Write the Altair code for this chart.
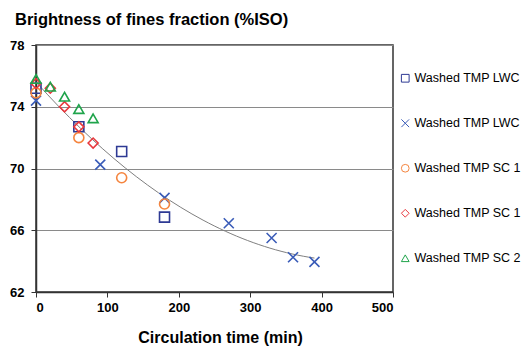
import altair as alt
import pandas as pd

# series keys (distinct) and their displayed legend labels
series_keys = ["s1", "s2", "s3", "s4", "s5"]
series_labels = ["Washed TMP LWC", "Washed TMP LWC", "Washed TMP SC 1", "Washed TMP SC 1", "Washed TMP SC 2"]
series_colors = ["#2E3A94", "#3A5CB8", "#F5853F", "#E8383D", "#1FA44B"]
series_shapes = ["square", "M-1,-1L1,1M-1,1L1,-1", "circle", "diamond", "triangle-up"]

s1_x = [0, 60, 120, 180]
s1_y = [75.2, 72.7, 71.1, 66.85]
s2_x = [0, 90, 180, 270, 330, 360, 390]
s2_y = [74.4, 70.25, 68.1, 66.45, 65.5, 64.25, 63.95]
s3_x = [0, 60, 120, 180]
s3_y = [74.9, 72.0, 69.4, 67.7]
s4_x = [0, 20, 40, 60, 80]
s4_y = [75.5, 75.2, 74.0, 72.7, 71.65]
s5_x = [0, 20, 40, 60, 80]
s5_y = [75.8, 75.3, 74.65, 73.85, 73.25]

rows = []
for key, xs, ys in zip(series_keys, [s1_x, s2_x, s3_x, s4_x, s5_x], [s1_y, s2_y, s3_y, s4_y, s5_y]):
    for xv, yv in zip(xs, ys):
        rows.append({"series": key, "time": xv, "brightness": yv})
df = pd.DataFrame(rows)

label_expr = " : ".join(
    f"datum.value == '{k}' ? '{l}'" for k, l in zip(series_keys, series_labels)
) + " : ''"

x_scale = alt.Scale(domain=[0, 500], nice=False, zero=False)
y_scale = alt.Scale(domain=[62, 78], nice=False, zero=False)

legend = alt.Legend(
    title=None,
    orient="none",
    legendX=363,
    legendY=27,
    padding=0,
    rowPadding=32,
    labelExpr=label_expr,
    labelFont="Liberation Sans",
    labelFontSize=12.5,
    labelColor="#000000",
    labelOffset=3,
    symbolSize=60,
    symbolStrokeWidth=1,
    symbolFillColor="transparent",
)

base = alt.Chart(df)

trend = base.transform_regression(
    "time", "brightness", method="poly", order=2
).mark_line(color="#7f7f7f", strokeWidth=1).encode(
    x=alt.X("time:Q", scale=x_scale),
    y=alt.Y("brightness:Q", scale=y_scale),
)

points = base.mark_point(filled=False, strokeWidth=1.6, size=100, opacity=1).encode(
    x=alt.X(
        "time:Q",
        scale=x_scale,
        axis=alt.Axis(
            values=[0, 100, 200, 300, 400, 500],
            title="Circulation time (min)",
            titleFontSize=16,
            titleFontWeight="bold",
            titleColor="#000000",
            titleFont="Liberation Sans",
            titleBaseline="alphabetic",
            titleY=50,
            titleX=184,
            labelFont="Liberation Sans",
            labelFontSize=13,
            labelFontWeight="bold",
            labelColor="#000000",
            labelPadding=4,
            tickSize=5,
            tickColor="#333333",
            domainColor="#333333",
            domainWidth=1.5,
            grid=False,
        ),
    ),
    y=alt.Y(
        "brightness:Q",
        scale=y_scale,
        axis=alt.Axis(
            values=[62, 66, 70, 74, 78],
            title=None,
            labelFont="Liberation Sans",
            labelFontSize=13,
            labelFontWeight="bold",
            labelColor="#000000",
            labelPadding=7,
            tickSize=5,
            tickColor="#333333",
            domainColor="#333333",
            domainWidth=1.5,
            grid=True,
            gridColor="#8a8a8a",
            gridWidth=1.2,
        ),
    ),
    color=alt.Color(
        "series:N",
        scale=alt.Scale(domain=series_keys, range=series_colors),
        legend=legend,
    ),
    shape=alt.Shape(
        "series:N",
        scale=alt.Scale(domain=series_keys, range=series_shapes),
        legend=legend,
    ),
)

chart = alt.layer(trend, points).properties(
    width=357,
    height=247,
    autosize=alt.AutoSizeParams(type="none"),
    padding={"left": 36, "top": 45, "right": 131, "bottom": 56},
    background="white",
    title=alt.Title(
        "Brightness of fines fraction (%ISO)",
        anchor="start",
        frame="group",
        font="Liberation Sans",
        fontSize=16.5,
        fontWeight="bold",
        color="#000000",
        baseline="alphabetic",
        offset=21,
        dx=-21,
        dy=23,
    ),
).configure_view(
    stroke="#333333",
    strokeWidth=1.5,
)

chart.save("out.html", embed_options={"renderer": "svg", "actions": False})
